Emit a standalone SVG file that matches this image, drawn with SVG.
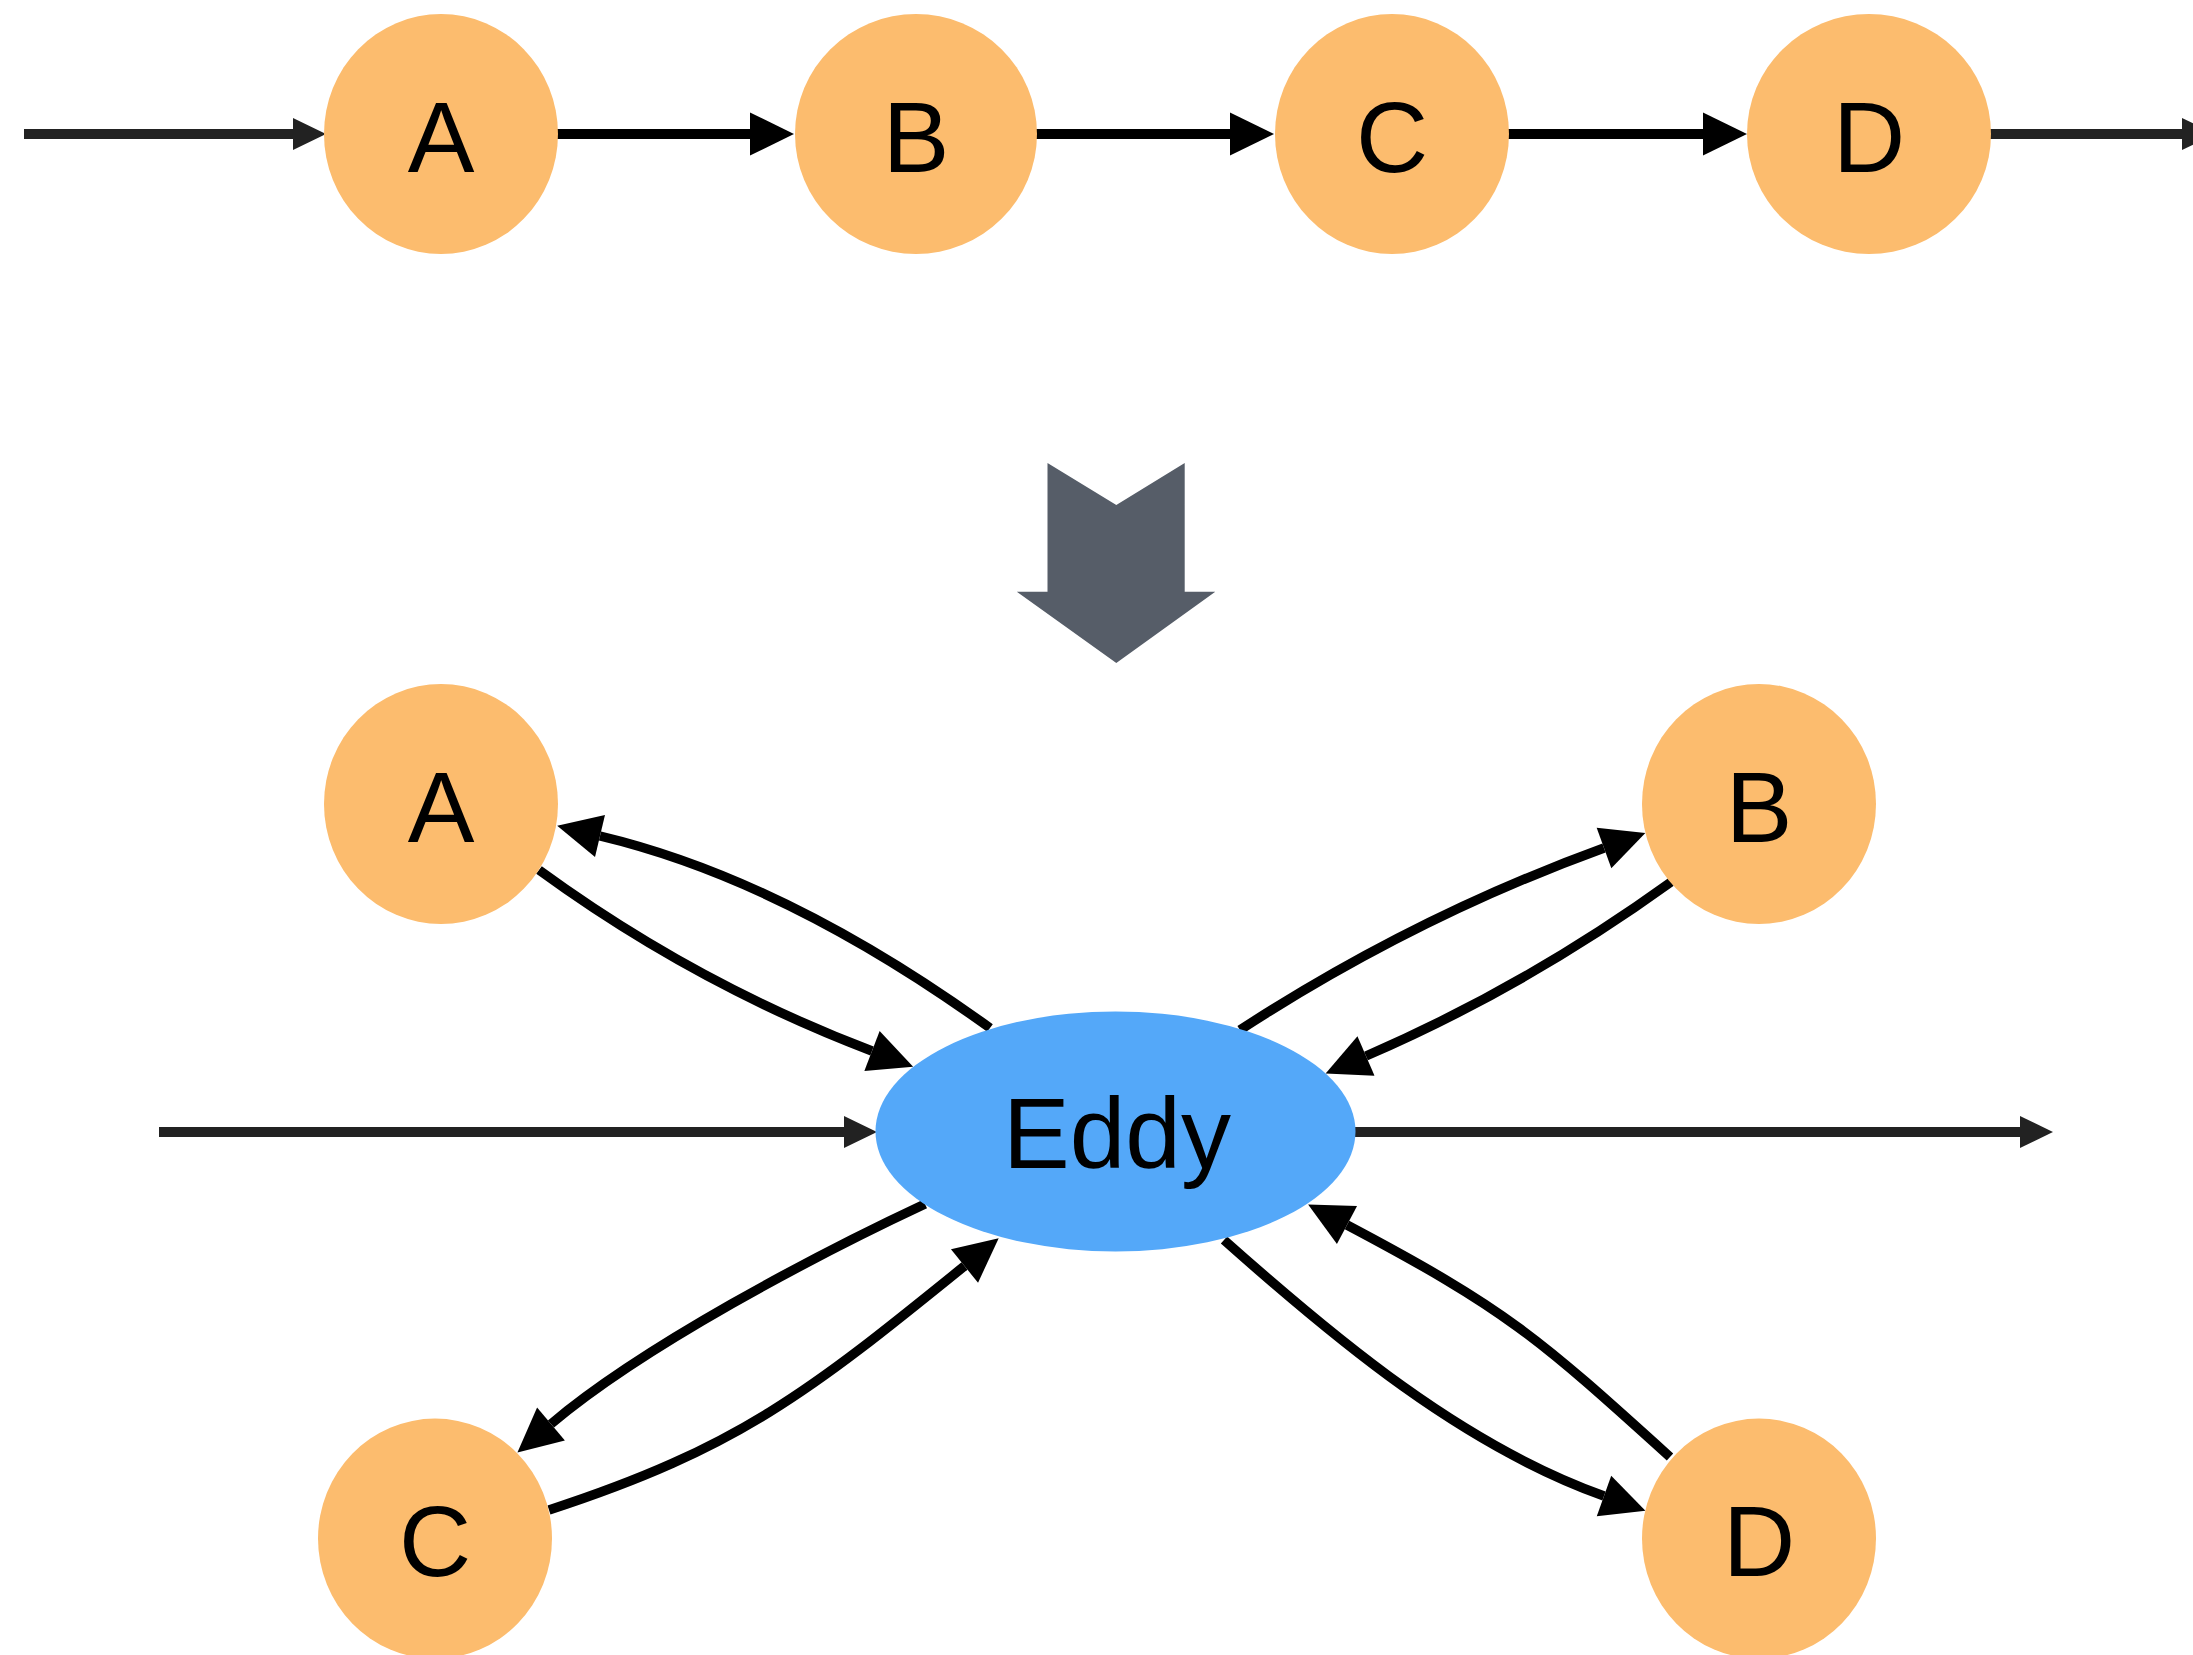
<svg xmlns="http://www.w3.org/2000/svg" width="2193" height="1655" viewBox="0 0 2193 1655">
  <defs>
    <style>
      .node { fill: #FCBC6E; }
      .eddy { fill: #54A8F9; }
      .label { font-family: "Liberation Sans", Arial, sans-serif; font-size: 100px; fill: #000; text-anchor: middle; }
      .gray { stroke: #222222; stroke-width: 10; fill: none; }
      .blk { stroke: #000000; stroke-width: 10; fill: none; }
      .curve { stroke: #000000; stroke-width: 9.5; fill: none; }
    </style>
    <marker id="headBlack" markerUnits="userSpaceOnUse" markerWidth="50" markerHeight="50" refX="0" refY="22" orient="auto" viewBox="0 0 50 44" overflow="visible">
      <path d="M0,0.5 L44,22 L0,43.5 Z" fill="#000000"/>
    </marker>
    <marker id="headGray" markerUnits="userSpaceOnUse" markerWidth="40" markerHeight="40" refX="0" refY="16" orient="auto" viewBox="0 0 40 32" overflow="visible">
      <path d="M0,0 L33,16 L0,32 Z" fill="#222222"/>
    </marker>
  </defs>
  <rect width="2193" height="1655" fill="#ffffff"/>

  <g id="connectors">
    <!-- top row -->
    <line class="gray" x1="24" y1="134" x2="293" y2="134" marker-end="url(#headGray)"/>
    <line class="blk" x1="557" y1="134" x2="750" y2="134" marker-end="url(#headBlack)"/>
    <line class="blk" x1="1036" y1="134" x2="1230" y2="134" marker-end="url(#headBlack)"/>
    <line class="blk" x1="1508" y1="134" x2="1703" y2="134" marker-end="url(#headBlack)"/>
    <line class="gray" x1="1985" y1="134" x2="2182" y2="134" marker-end="url(#headGray)"/>
    <!-- bottom horizontal -->
    <line class="gray" x1="159" y1="1132" x2="844" y2="1132" marker-end="url(#headGray)"/>
    <line class="gray" x1="1355" y1="1132" x2="2020" y2="1132" marker-end="url(#headGray)"/>
    <!-- A pair -->
    <path class="curve" d="M990,1028 Q785,880 600,836" marker-end="url(#headBlack)"/>
    <path class="curve" d="M539,870 Q694.5,983.5 872,1051" marker-end="url(#headBlack)"/>
    <!-- B pair -->
    <path class="curve" d="M1240,1030 Q1414,917 1604,848" marker-end="url(#headBlack)"/>
    <path class="curve" d="M1671,882 Q1525.5,987 1366,1056" marker-end="url(#headBlack)"/>
    <!-- C pair -->
    <path class="curve" d="M925,1204 C816.3,1254.8 642.6,1346.4 551,1424" marker-end="url(#headBlack)"/>
    <path class="curve" d="M549,1510 C739,1448 809,1392 964.5,1266" marker-end="url(#headBlack)"/>
    <!-- D pair -->
    <path class="curve" d="M1224,1240 C1336,1339.6 1462.7,1445.6 1604,1496" marker-end="url(#headBlack)"/>
    <path class="curve" d="M1670,1457 C1536.8,1336.4 1506.1,1309.2 1347,1225" marker-end="url(#headBlack)"/>
  </g>

  <g id="transform-arrow">
    <path d="M1047.5,463 L1116.3,505 L1184.7,463 L1184.7,591.7 L1215.3,591.7 L1116.3,663 L1016.8,591.7 L1047.5,591.7 Z" fill="#565D68"/>
  </g>

  <g id="top-A"><ellipse class="node" cx="441" cy="134" rx="117" ry="120"/><text class="label" x="441" y="172">A</text></g>
  <g id="top-B"><ellipse class="node" cx="916" cy="134" rx="121" ry="120"/><text class="label" x="916" y="172">B</text></g>
  <g id="top-C"><ellipse class="node" cx="1392" cy="134" rx="117" ry="120"/><text class="label" x="1392" y="172">C</text></g>
  <g id="top-D"><ellipse class="node" cx="1869" cy="134" rx="122" ry="120"/><text class="label" x="1869" y="172">D</text></g>

  <g id="eddy"><ellipse class="eddy" cx="1115.5" cy="1131.5" rx="240" ry="120"/><text class="label" x="1117" y="1168">Eddy</text></g>

  <g id="bottom-A"><ellipse class="node" cx="441" cy="804" rx="117" ry="120"/><text class="label" x="441" y="842">A</text></g>
  <g id="bottom-B"><ellipse class="node" cx="1759" cy="804" rx="117" ry="120"/><text class="label" x="1759" y="842">B</text></g>
  <g id="bottom-C"><ellipse class="node" cx="435" cy="1538.6" rx="117" ry="120"/><text class="label" x="435" y="1576">C</text></g>
  <g id="bottom-D"><ellipse class="node" cx="1759" cy="1538.6" rx="117" ry="120"/><text class="label" x="1759" y="1576">D</text></g>
</svg>
